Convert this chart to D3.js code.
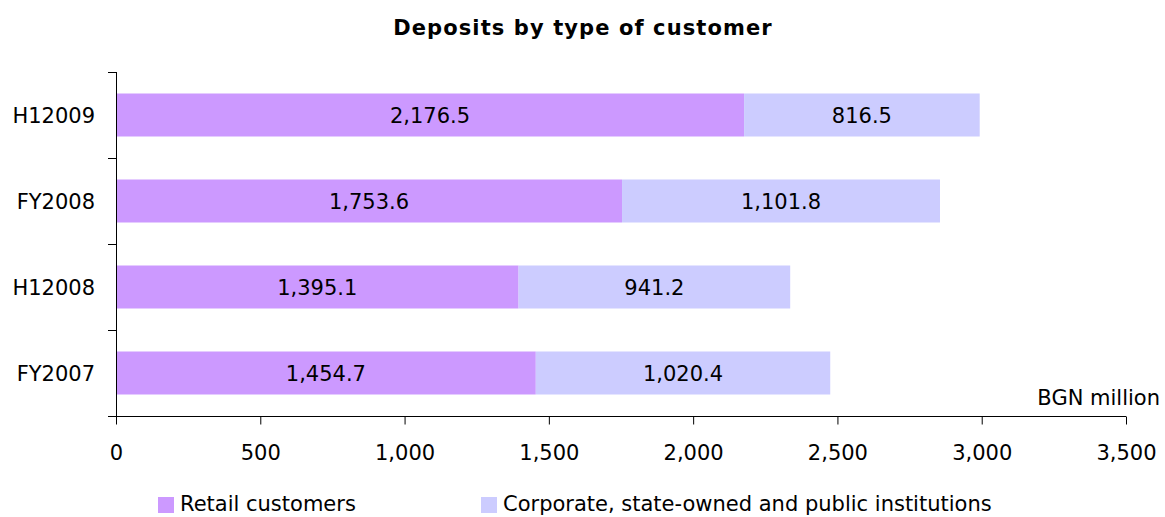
<!DOCTYPE html>
<html>
<head>
<meta charset="utf-8">
<script src="https://cdn.jsdelivr.net/npm/d3@7"></script>
<style>
  body { margin: 0; background: #fff; }
  text { font-family: "DejaVu Sans", Verdana, sans-serif; fill: #000; }
</style>
</head>
<body>
<script>
// periods, top to bottom
periods = ["H12009", "FY2008", "H12008", "FY2007"]
retail = [2176.5, 1753.6, 1395.1, 1454.7]
corporate = [816.5, 1101.8, 941.2, 1020.4]
seriesNames = ["Retail customers", "Corporate, state-owned and public institutions"]
xTicks = [0, 500, 1000, 1500, 2000, 2500, 3000, 3500]

width = 1165
height = 517
colors = ["#cc99ff", "#ccccff"]
fs = 21

rows = periods.map((p, i) => ({period: p, retail: retail[i], corporate: corporate[i]}))
stack = d3.stack().keys(["retail", "corporate"])(rows)

x = d3.scaleLinear().domain([0, 3500]).range([116, 1126])
y = d3.scaleBand().domain(periods).range([72, 416]).paddingInner(0.5).paddingOuter(0.25)
fmt = d3.format(",.1f")

svg = d3.select("body").append("svg")
  .attr("width", width)
  .attr("height", height)

svg.append("text")
  .attr("x", 583)
  .attr("y", 35)
  .attr("text-anchor", "middle")
  .attr("font-size", 21)
  .attr("font-weight", "bold")
  .attr("letter-spacing", 1.1)
  .text("Deposits by type of customer")

// bars
const layer = svg.append("g").selectAll("g")
  .data(stack)
  .join("g")
    .attr("fill", (d, i) => colors[i])

layer.selectAll("rect")
  .data(d => d)
  .join("rect")
    .attr("x", d => x(d[0]))
    .attr("y", d => y(d.data.period))
    .attr("width", d => x(d[1]) - x(d[0]))
    .attr("height", y.bandwidth())

// value labels
svg.append("g").selectAll("g")
  .data(stack)
  .join("g")
  .selectAll("text")
  .data(d => d)
  .join("text")
    .attr("x", d => (x(d[0]) + x(d[1])) / 2)
    .attr("y", d => y(d.data.period) + y.bandwidth() / 2)
    .attr("dy", "0.36em")
    .attr("text-anchor", "middle")
    .attr("font-size", fs)
    .text(d => fmt(d[1] - d[0]))

// y axis: ticks at category boundaries
const bounds = d3.range(periods.length + 1).map(i => 72 + i * y.step())
const yAxisG = svg.append("g")
yAxisG.append("line")
  .attr("x1", 116.5).attr("x2", 116.5)
  .attr("y1", 72).attr("y2", 416)
  .attr("stroke", "#000")
yAxisG.selectAll(".tk")
  .data(bounds)
  .join("line")
    .attr("class", "tk")
    .attr("x1", 108).attr("x2", 116.5)
    .attr("y1", d => Math.round(d) + 0.5).attr("y2", d => Math.round(d) + 0.5)
    .attr("stroke", "#000")
yAxisG.selectAll("text")
  .data(periods)
  .join("text")
    .attr("x", 95)
    .attr("y", d => y(d) + y.bandwidth() / 2)
    .attr("dy", "0.36em")
    .attr("text-anchor", "end")
    .attr("font-size", fs)
    .text(d => d)

// x axis
const xAxisG = svg.append("g")
  .attr("transform", "translate(0,416.5)")
  .call(d3.axisBottom(x).tickValues(xTicks).tickSize(8).tickPadding(21).tickFormat(d3.format(",")))
xAxisG.select(".domain").attr("d", `M108,0H${x(3500)}`)
xAxisG.selectAll("text").attr("font-size", fs).attr("font-family", null)

svg.append("text")
  .attr("x", 1160)
  .attr("y", 405)
  .attr("text-anchor", "end")
  .attr("font-size", fs)
  .text("BGN million")

// legend
const legendX = [158, 481]
const legend = svg.append("g").selectAll("g")
  .data(seriesNames)
  .join("g")
    .attr("transform", (d, i) => `translate(${legendX[i]},497)`)
legend.append("rect")
  .attr("width", 16).attr("height", 16)
  .attr("fill", (d, i) => colors[i])
legend.append("text")
  .attr("x", 22)
  .attr("y", 14)
  .attr("font-size", fs)
  .text(d => d)
</script>
</body>
</html>
